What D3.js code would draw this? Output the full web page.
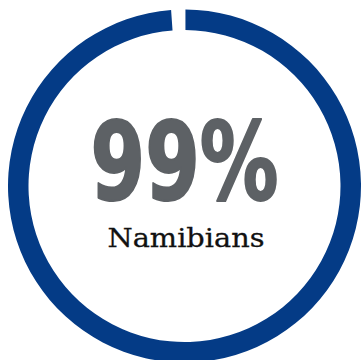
<!DOCTYPE html>
<html>
<head>
<meta charset="utf-8">
<script src="https://cdn.jsdelivr.net/npm/d3@7"></script>
<style>
  html, body { margin: 0; padding: 0; background: #fff; }
  svg { display: block; }
</style>
</head>
<body>
<div id="chart"></div>
<script>
// Share of people, as a single ring
const shareLabels = ["Namibians", "Other"];
const shareValues = [99, 1];
const shareColors = ["#043b86", "none"];
const headline = "99%";
const caption = "Namibians";

const width = 363, height = 360;
const cx = 184.5, cy = 186;
const outerR = 176.5, innerR = 156;

const svg = d3.select("#chart").append("svg")
  .attr("width", width)
  .attr("height", height);

const g = svg.append("g").attr("transform", `translate(${cx},${cy})`);

const pie = d3.pie().sort(null).padAngle(0.008);
const arc = d3.arc().innerRadius(innerR).outerRadius(outerR);

g.selectAll("path")
  .data(pie(shareValues))
  .join("path")
  .attr("d", arc)
  .attr("fill", (d, i) => shareColors[i]);

// Big percentage, heavy condensed face
g.append("text")
  .attr("x", 0)
  .attr("y", 13)
  .attr("text-anchor", "middle")
  .attr("font-family", "'Liberation Sans Narrow', 'DejaVu Sans Condensed', sans-serif")
  .attr("font-weight", "bold")
  .attr("font-size", 109)
  .attr("fill", "#5d6165")
  .attr("stroke", "#5d6165")
  .attr("stroke-width", 2)
  .attr("stroke-linejoin", "round")
  .attr("textLength", 188)
  .attr("lengthAdjust", "spacingAndGlyphs")
  .text(headline);

g.append("text")
  .attr("x", 1.5)
  .attr("y", 61)
  .attr("text-anchor", "middle")
  .attr("font-family", "'DejaVu Serif', serif")
  .attr("font-size", 26)
  .attr("fill", "#111")
  .attr("stroke", "#111")
  .attr("stroke-width", 0.3)
  .attr("textLength", 157)
  .attr("lengthAdjust", "spacingAndGlyphs")
  .text(caption);
</script>
</body>
</html>
